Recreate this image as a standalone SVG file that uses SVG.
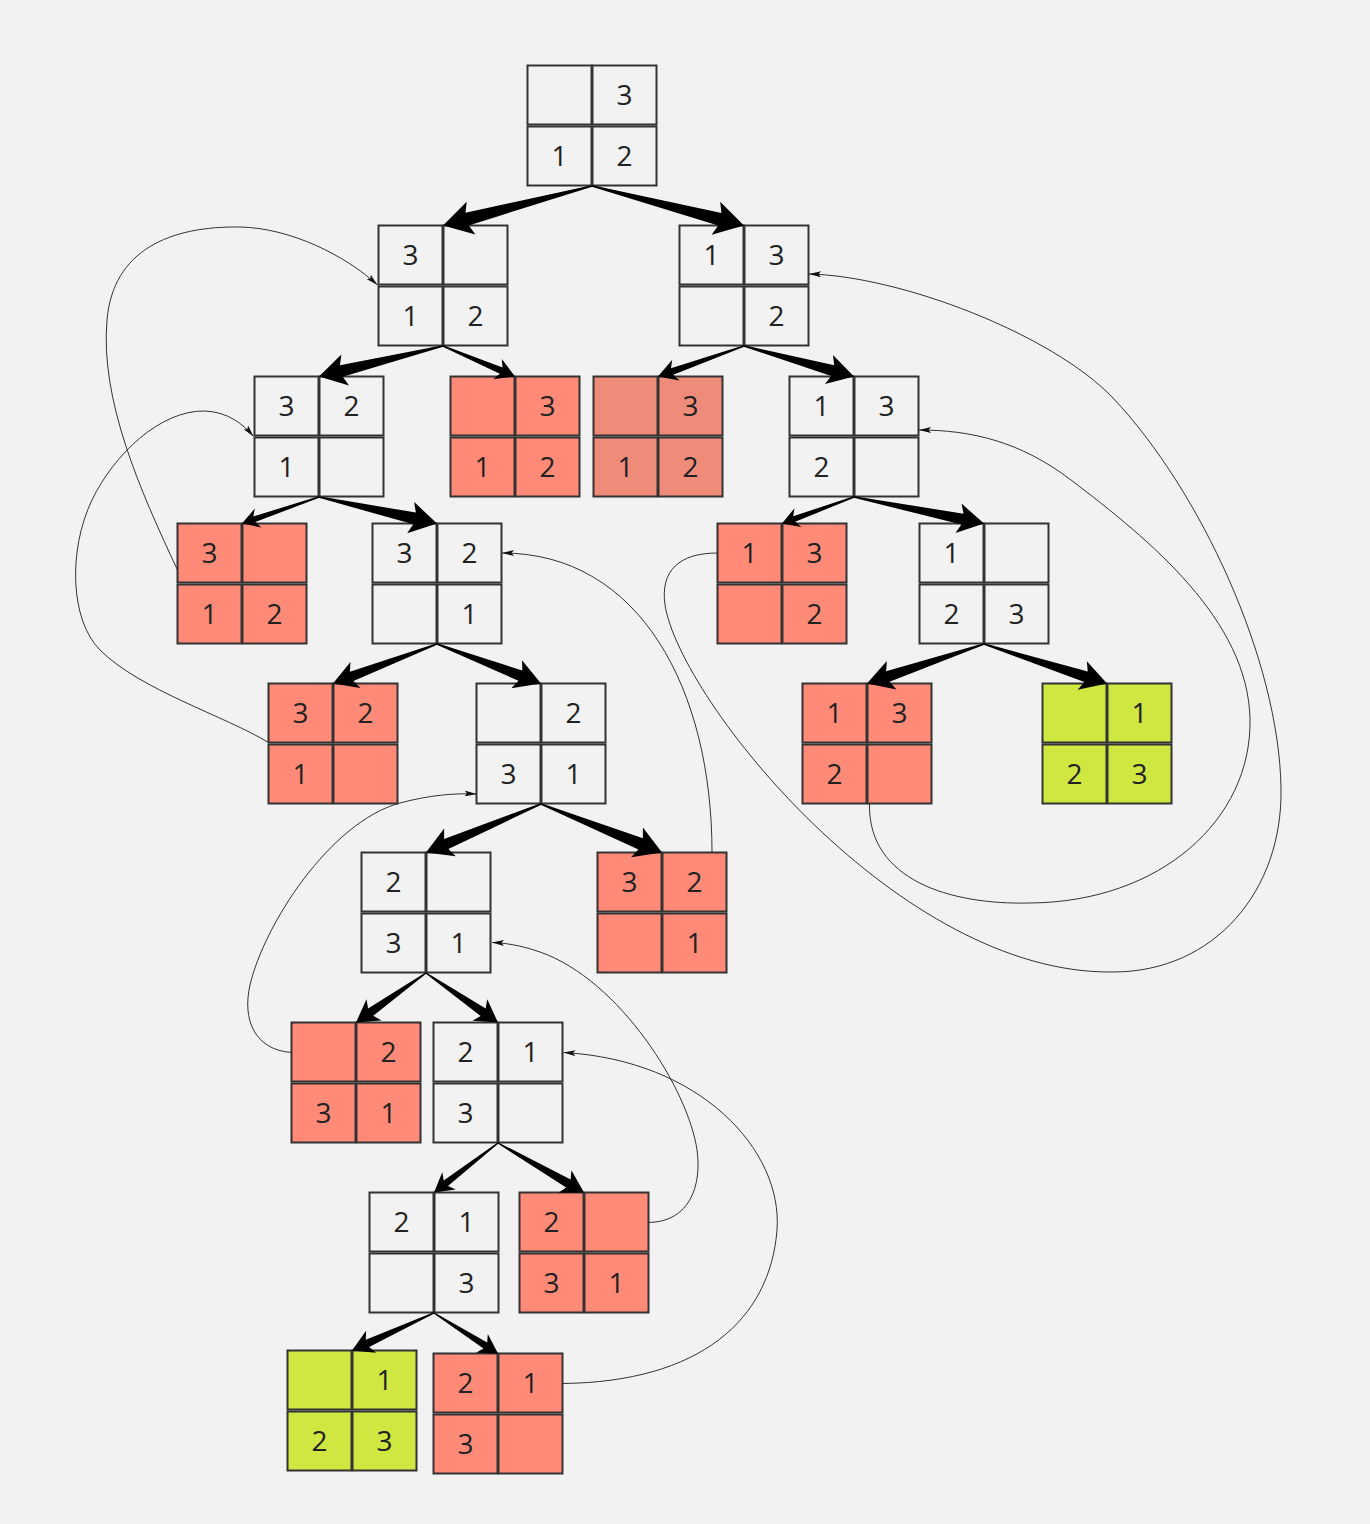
<svg xmlns="http://www.w3.org/2000/svg" width="1370" height="1524" viewBox="0 0 1370 1524">
<style>
rect.c{stroke:#333;stroke-width:2}
.w rect{fill:#f2f2f2}
.r rect{fill:#ff8a78}
.r2 rect{fill:#ef8b79}
.g rect{fill:#cfe740}
text{font-family:"Open Sans","Noto Sans",sans-serif;font-size:28px;fill:#222;text-anchor:middle}
.thick path{fill:#000}
.back path{fill:none;stroke:#333;stroke-width:1}
</style>
<defs>
<marker id="ah" viewBox="0 0 12 6" refX="12" refY="3" markerWidth="12" markerHeight="6" markerUnits="userSpaceOnUse" orient="auto"><path d="M0,0L12,3L0,6L2.5,3Z" fill="#111"/></marker>
</defs>
<rect x="0" y="0" width="1370" height="1524" fill="#f2f2f2"/>

<g id="n1" class="w" transform="translate(527.5,65.5)"><rect class="c" x="0" y="0" width="64" height="59"/><rect class="c" x="65" y="0" width="64" height="59"/><rect class="c" x="0" y="61" width="64" height="59"/><rect class="c" x="65" y="61" width="64" height="59"/><text x="97" y="39.5">3</text><text x="32" y="100.5">1</text><text x="97" y="100.5">2</text></g>
<g id="n2" class="w" transform="translate(378.5,225.5)"><rect class="c" x="0" y="0" width="64" height="59"/><rect class="c" x="65" y="0" width="64" height="59"/><rect class="c" x="0" y="61" width="64" height="59"/><rect class="c" x="65" y="61" width="64" height="59"/><text x="32" y="39.5">3</text><text x="32" y="100.5">1</text><text x="97" y="100.5">2</text></g>
<g id="n3" class="w" transform="translate(679.5,225.5)"><rect class="c" x="0" y="0" width="64" height="59"/><rect class="c" x="65" y="0" width="64" height="59"/><rect class="c" x="0" y="61" width="64" height="59"/><rect class="c" x="65" y="61" width="64" height="59"/><text x="32" y="39.5">1</text><text x="97" y="39.5">3</text><text x="97" y="100.5">2</text></g>
<g id="n4" class="w" transform="translate(254.5,376.5)"><rect class="c" x="0" y="0" width="64" height="59"/><rect class="c" x="65" y="0" width="64" height="59"/><rect class="c" x="0" y="61" width="64" height="59"/><rect class="c" x="65" y="61" width="64" height="59"/><text x="32" y="39.5">3</text><text x="97" y="39.5">2</text><text x="32" y="100.5">1</text></g>
<g id="n5" class="r" transform="translate(450.5,376.5)"><rect class="c" x="0" y="0" width="64" height="59"/><rect class="c" x="65" y="0" width="64" height="59"/><rect class="c" x="0" y="61" width="64" height="59"/><rect class="c" x="65" y="61" width="64" height="59"/><text x="97" y="39.5">3</text><text x="32" y="100.5">1</text><text x="97" y="100.5">2</text></g>
<g id="n6" class="r2" transform="translate(593.5,376.5)"><rect class="c" x="0" y="0" width="64" height="59"/><rect class="c" x="65" y="0" width="64" height="59"/><rect class="c" x="0" y="61" width="64" height="59"/><rect class="c" x="65" y="61" width="64" height="59"/><text x="97" y="39.5">3</text><text x="32" y="100.5">1</text><text x="97" y="100.5">2</text></g>
<g id="n7" class="w" transform="translate(789.5,376.5)"><rect class="c" x="0" y="0" width="64" height="59"/><rect class="c" x="65" y="0" width="64" height="59"/><rect class="c" x="0" y="61" width="64" height="59"/><rect class="c" x="65" y="61" width="64" height="59"/><text x="32" y="39.5">1</text><text x="97" y="39.5">3</text><text x="32" y="100.5">2</text></g>
<g id="n8" class="r" transform="translate(177.5,523.5)"><rect class="c" x="0" y="0" width="64" height="59"/><rect class="c" x="65" y="0" width="64" height="59"/><rect class="c" x="0" y="61" width="64" height="59"/><rect class="c" x="65" y="61" width="64" height="59"/><text x="32" y="39.5">3</text><text x="32" y="100.5">1</text><text x="97" y="100.5">2</text></g>
<g id="n9" class="w" transform="translate(372.5,523.5)"><rect class="c" x="0" y="0" width="64" height="59"/><rect class="c" x="65" y="0" width="64" height="59"/><rect class="c" x="0" y="61" width="64" height="59"/><rect class="c" x="65" y="61" width="64" height="59"/><text x="32" y="39.5">3</text><text x="97" y="39.5">2</text><text x="97" y="100.5">1</text></g>
<g id="n10" class="r" transform="translate(717.5,523.5)"><rect class="c" x="0" y="0" width="64" height="59"/><rect class="c" x="65" y="0" width="64" height="59"/><rect class="c" x="0" y="61" width="64" height="59"/><rect class="c" x="65" y="61" width="64" height="59"/><text x="32" y="39.5">1</text><text x="97" y="39.5">3</text><text x="97" y="100.5">2</text></g>
<g id="n11" class="w" transform="translate(919.5,523.5)"><rect class="c" x="0" y="0" width="64" height="59"/><rect class="c" x="65" y="0" width="64" height="59"/><rect class="c" x="0" y="61" width="64" height="59"/><rect class="c" x="65" y="61" width="64" height="59"/><text x="32" y="39.5">1</text><text x="32" y="100.5">2</text><text x="97" y="100.5">3</text></g>
<g id="n12" class="r" transform="translate(268.5,683.5)"><rect class="c" x="0" y="0" width="64" height="59"/><rect class="c" x="65" y="0" width="64" height="59"/><rect class="c" x="0" y="61" width="64" height="59"/><rect class="c" x="65" y="61" width="64" height="59"/><text x="32" y="39.5">3</text><text x="97" y="39.5">2</text><text x="32" y="100.5">1</text></g>
<g id="n13" class="w" transform="translate(476.5,683.5)"><rect class="c" x="0" y="0" width="64" height="59"/><rect class="c" x="65" y="0" width="64" height="59"/><rect class="c" x="0" y="61" width="64" height="59"/><rect class="c" x="65" y="61" width="64" height="59"/><text x="97" y="39.5">2</text><text x="32" y="100.5">3</text><text x="97" y="100.5">1</text></g>
<g id="n14" class="r" transform="translate(802.5,683.5)"><rect class="c" x="0" y="0" width="64" height="59"/><rect class="c" x="65" y="0" width="64" height="59"/><rect class="c" x="0" y="61" width="64" height="59"/><rect class="c" x="65" y="61" width="64" height="59"/><text x="32" y="39.5">1</text><text x="97" y="39.5">3</text><text x="32" y="100.5">2</text></g>
<g id="n15" class="g" transform="translate(1042.5,683.5)"><rect class="c" x="0" y="0" width="64" height="59"/><rect class="c" x="65" y="0" width="64" height="59"/><rect class="c" x="0" y="61" width="64" height="59"/><rect class="c" x="65" y="61" width="64" height="59"/><text x="97" y="39.5">1</text><text x="32" y="100.5">2</text><text x="97" y="100.5">3</text></g>
<g id="n16" class="w" transform="translate(361.5,852.5)"><rect class="c" x="0" y="0" width="64" height="59"/><rect class="c" x="65" y="0" width="64" height="59"/><rect class="c" x="0" y="61" width="64" height="59"/><rect class="c" x="65" y="61" width="64" height="59"/><text x="32" y="39.5">2</text><text x="32" y="100.5">3</text><text x="97" y="100.5">1</text></g>
<g id="n17" class="r" transform="translate(597.5,852.5)"><rect class="c" x="0" y="0" width="64" height="59"/><rect class="c" x="65" y="0" width="64" height="59"/><rect class="c" x="0" y="61" width="64" height="59"/><rect class="c" x="65" y="61" width="64" height="59"/><text x="32" y="39.5">3</text><text x="97" y="39.5">2</text><text x="97" y="100.5">1</text></g>
<g id="n18" class="r" transform="translate(291.5,1022.5)"><rect class="c" x="0" y="0" width="64" height="59"/><rect class="c" x="65" y="0" width="64" height="59"/><rect class="c" x="0" y="61" width="64" height="59"/><rect class="c" x="65" y="61" width="64" height="59"/><text x="97" y="39.5">2</text><text x="32" y="100.5">3</text><text x="97" y="100.5">1</text></g>
<g id="n19" class="w" transform="translate(433.5,1022.5)"><rect class="c" x="0" y="0" width="64" height="59"/><rect class="c" x="65" y="0" width="64" height="59"/><rect class="c" x="0" y="61" width="64" height="59"/><rect class="c" x="65" y="61" width="64" height="59"/><text x="32" y="39.5">2</text><text x="97" y="39.5">1</text><text x="32" y="100.5">3</text></g>
<g id="n20" class="w" transform="translate(369.5,1192.5)"><rect class="c" x="0" y="0" width="64" height="59"/><rect class="c" x="65" y="0" width="64" height="59"/><rect class="c" x="0" y="61" width="64" height="59"/><rect class="c" x="65" y="61" width="64" height="59"/><text x="32" y="39.5">2</text><text x="97" y="39.5">1</text><text x="97" y="100.5">3</text></g>
<g id="n21" class="r" transform="translate(519.5,1192.5)"><rect class="c" x="0" y="0" width="64" height="59"/><rect class="c" x="65" y="0" width="64" height="59"/><rect class="c" x="0" y="61" width="64" height="59"/><rect class="c" x="65" y="61" width="64" height="59"/><text x="32" y="39.5">2</text><text x="32" y="100.5">3</text><text x="97" y="100.5">1</text></g>
<g id="n22" class="g" transform="translate(287.5,1350.5)"><rect class="c" x="0" y="0" width="64" height="59"/><rect class="c" x="65" y="0" width="64" height="59"/><rect class="c" x="0" y="61" width="64" height="59"/><rect class="c" x="65" y="61" width="64" height="59"/><text x="97" y="39.5">1</text><text x="32" y="100.5">2</text><text x="97" y="100.5">3</text></g>
<g id="n23" class="r" transform="translate(433.5,1353.5)"><rect class="c" x="0" y="0" width="64" height="59"/><rect class="c" x="65" y="0" width="64" height="59"/><rect class="c" x="0" y="61" width="64" height="59"/><rect class="c" x="65" y="61" width="64" height="59"/><text x="32" y="39.5">2</text><text x="97" y="39.5">1</text><text x="32" y="100.5">3</text></g>

<g id="connectors">
<g class="thick">
<path transform="translate(443,225.5) rotate(165.15)" d="M-154.1,-0.8L-25,-6.5L-29,-17L0,0L-29,17L-25,6.5L-154.1,0.8Z"/>
<path transform="translate(744,225.5) rotate(14.57)" d="M-157,-0.8L-25,-6.5L-29,-17L0,0L-29,17L-25,6.5L-157,0.8Z"/>
<path transform="translate(319,376.5) rotate(166.18)" d="M-127.7,-0.8L-23,-6L-27,-16L0,0L-27,16L-23,6L-127.7,0.8Z"/>
<path transform="translate(515,376.5) rotate(22.96)" d="M-78.2,-0.7L-15,-3.5L-19,-11L0,0L-19,11L-15,3.5L-78.2,0.7Z"/>
<path transform="translate(658,376.5) rotate(160.47)" d="M-91.2,-0.7L-15,-3.5L-19,-11L0,0L-19,11L-15,3.5L-91.2,0.7Z"/>
<path transform="translate(854,376.5) rotate(15.5)" d="M-114.1,-0.8L-22,-5.5L-26,-15L0,0L-26,15L-22,5.5L-114.1,0.8Z"/>
<path transform="translate(242,523.5) rotate(161.01)" d="M-81.4,-0.7L-13,-3L-17,-10L0,0L-17,10L-13,3L-81.4,0.7Z"/>
<path transform="translate(437,523.5) rotate(12.66)" d="M-120.9,-0.8L-23,-6L-27,-16L0,0L-27,16L-23,6L-120.9,0.8Z"/>
<path transform="translate(782,523.5) rotate(159.79)" d="M-76.7,-0.7L-13,-3L-17,-10L0,0L-17,10L-13,3L-76.7,0.7Z"/>
<path transform="translate(984,523.5) rotate(11.52)" d="M-132.7,-0.8L-22,-5.5L-26,-15L0,0L-26,15L-22,5.5L-132.7,0.8Z"/>
<path transform="translate(333,683.5) rotate(159.21)" d="M-111.2,-0.8L-20,-5L-24,-14L0,0L-24,14L-20,5L-111.2,0.8Z"/>
<path transform="translate(541,683.5) rotate(20.79)" d="M-111.2,-0.8L-22,-5.5L-26,-15L0,0L-26,15L-22,5.5L-111.2,0.8Z"/>
<path transform="translate(867,683.5) rotate(161.35)" d="M-123.5,-0.8L-22,-5.5L-26,-15L0,0L-26,15L-22,5.5L-123.5,0.8Z"/>
<path transform="translate(1107,683.5) rotate(17.8)" d="M-129.2,-0.8L-22,-5.5L-26,-15L0,0L-26,15L-22,5.5L-129.2,0.8Z"/>
<path transform="translate(426,852.5) rotate(157.13)" d="M-124.8,-0.8L-22,-5.5L-26,-15L0,0L-26,15L-22,5.5L-124.8,0.8Z"/>
<path transform="translate(662,852.5) rotate(21.84)" d="M-130.4,-0.8L-23,-6L-27,-16L0,0L-27,16L-23,6L-130.4,0.8Z"/>
<path transform="translate(356,1022.5) rotate(144.73)" d="M-85.7,-0.7L-18,-4.5L-22,-13L0,0L-22,13L-18,4.5L-85.7,0.7Z"/>
<path transform="translate(498,1022.5) rotate(34.51)" d="M-87.4,-0.7L-18,-4.5L-22,-13L0,0L-22,13L-18,4.5L-87.4,0.7Z"/>
<path transform="translate(434,1192.5) rotate(142.28)" d="M-80.9,-0.7L-15,-3.5L-19,-11L0,0L-19,11L-15,3.5L-80.9,0.7Z"/>
<path transform="translate(584,1192.5) rotate(29.93)" d="M-99.2,-0.7L-18,-4.5L-22,-13L0,0L-22,13L-18,4.5L-99.2,0.7Z"/>
<path transform="translate(352,1350.5) rotate(155.42)" d="M-90.2,-0.7L-17,-4L-21,-12L0,0L-21,12L-17,4L-90.2,0.7Z"/>
<path transform="translate(498,1353.5) rotate(32.33)" d="M-75.7,-0.7L-15,-3.5L-19,-11L0,0L-19,11L-15,3.5L-75.7,0.7Z"/>
</g>
<g class="back">
<path marker-end="url(#ah)" d="M177.5,570 C140,490 100,400 107,320 C113,250 170,226 240,227 C290,228 345,255 377.5,285"/>
<path marker-end="url(#ah)" d="M268.5,742.5 C225,716 140,690 100,650 C70,620 68,550 92,500 C113.6,455 160,410 205,411 C228,412 243,424 253.5,436.5"/>
<path marker-end="url(#ah)" d="M291.5,1052.5 C255,1050 242,1020 250,985 C264,925 330,822 400,803 C430,795 455,793 476.5,794"/>
<path marker-end="url(#ah)" d="M712,852.5 C712,690 640,553 502,553"/>
<path marker-end="url(#ah)" d="M648.5,1222.5 C690,1222 702,1185 697,1150 C688.5,1090 620,980 540,952 C520,945 505,943 492,942.5"/>
<path marker-end="url(#ah)" d="M562.5,1383.5 C700,1382 770,1320 777,1230 C783,1150 700,1060 563.5,1052.5"/>
<path marker-end="url(#ah)" d="M717.5,553 C680,553 660,570 665,605 C680,700 900,975 1113,972 C1215,972 1283,890 1281,788 C1279,660 1200,490 1113,398 C1052,334 900,276 809,274"/>
<path marker-end="url(#ah)" d="M869.5,804 C868,880 950,905 1030,903 C1160,902 1252,820 1250,719 C1248,620 1150,540 1071,480 C1020,441 970,430 919,430"/>
</g>
</g>
</svg>
